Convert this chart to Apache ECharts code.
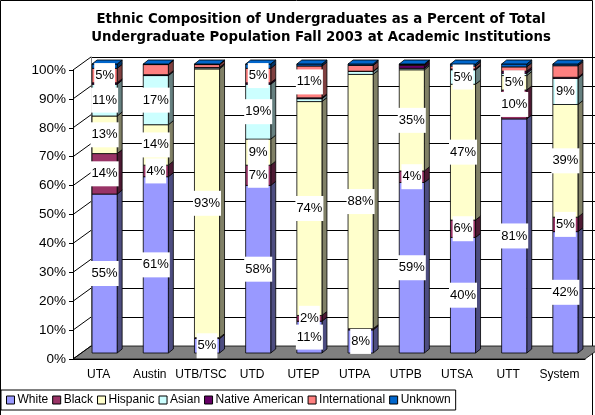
<!DOCTYPE html>
<html>
<head>
<meta charset="utf-8">
<script src="https://cdn.jsdelivr.net/npm/echarts@6/dist/echarts.min.js"></script>
<style>
  html, body { margin: 0; padding: 0; background: #fff; }
  #main { width: 595px; height: 415px; }
</style>
</head>
<body>
<div id="main"></div>
<script>
// institutions on x axis
const categories = ['UTA', 'Austin', 'UTB/TSC', 'UTD', 'UTEP', 'UTPA', 'UTPB', 'UTSA', 'UTT', 'System'];

// percent of undergraduates (small slivers estimated)
const white =         [55, 61, 5,   58,  11,  8,   59,  40,  81,  42];
const black =         [14, 4,  0.3, 7,   2,   0.4, 4,   6,   10,  5];
const hispanic =      [13, 14, 93,  9,   74,  88,  35,  47,  5,   39];
const asian =         [11, 17, 0.4, 19,  1,   1,   0.5, 5,   0.8, 9];
const nativeAm =      [0.5, 0.3, 0.1, 0.5, 0.3, 0.1, 1, 0.3, 0.7, 0.4];
const international = [5,  3.5, 1.0, 5,  11,  2,   0.3, 1,   1.5, 4];
const unknown =       [1.5, 0.2, 0.2, 1.5, 0.7, 0.5, 0.2, 0.7, 1, 0.6];

const yTicks = [0, 10, 20, 30, 40, 50, 60, 70, 80, 90, 100];

// labelMin: smallest value that gets a data label in that series
const groups = [
  { name: 'White', data: white, color: '#9999FF', side: '#4D4D80', labelMin: 2 },
  { name: 'Black', data: black, color: '#993366', side: '#4D1A33', labelMin: 2 },
  { name: 'Hispanic', data: hispanic, color: '#FFFFCC', side: '#808066', labelMin: 2 },
  { name: 'Asian', data: asian, color: '#CCFFFF', side: '#668080', labelMin: 4 },
  { name: 'Native American', data: nativeAm, color: '#660066', side: '#330033', labelMin: 100 },
  { name: 'International', data: international, color: '#FF8080', side: '#804040', labelMin: 4.5 },
  { name: 'Unknown', data: unknown, color: '#0066CC', side: '#003366', labelMin: 100 }
];

const FONT = '"Liberation Sans", Arial, sans-serif';
// 3d offsets (wall depth, bar position in depth, bar thickness)
const WALL_DX = 18, WALL_DY = -13;
const BAR_OX = 6, BAR_OY = -6;
const BAR_DX = 5, BAR_DY = -4;

const myChart = echarts.init(document.getElementById('main'), null, { renderer: 'canvas' });

function barRenderer(g, isTop) {
  return function (params, api) {
    const cat = api.value(0);
    const lo = api.value(1);
    const hi = api.value(2);
    const v = api.value(3);
    const p0 = api.coord([cat, lo]);
    const p1 = api.coord([cat, hi]);
    const bw = api.size([1, 0])[0] * 0.49;
    const x = p0[0] - bw / 2 + BAR_OX;
    const yb = p0[1] + BAR_OY;
    const yt = p1[1] + BAR_OY;
    const children = [
      {
        type: 'polygon',
        shape: { points: [[x + bw, yb], [x + bw + BAR_DX, yb + BAR_DY], [x + bw + BAR_DX, yt + BAR_DY], [x + bw, yt]] },
        style: { fill: g.side, stroke: '#000', lineWidth: 0.8 }
      },
      {
        type: 'rect',
        shape: { x: x, y: yt, width: bw, height: yb - yt },
        style: { fill: g.color, stroke: '#000', lineWidth: 0.8 }
      }
    ];
    if (isTop) {
      children.push({
        type: 'polygon',
        shape: { points: [[x, yt], [x + BAR_DX, yt + BAR_DY], [x + bw + BAR_DX, yt + BAR_DY], [x + bw, yt]] },
        style: { fill: g.color, stroke: '#000', lineWidth: 0.8 }
      });
    }
    if (v >= g.labelMin) {
      children.push({
        type: 'text',
        z2: 100,
        style: {
          text: Math.round(v) + '%',
          x: x + bw / 2,
          y: (yb + yt) / 2,
          align: 'center',
          verticalAlign: 'middle',
          fontSize: 13,
          fontFamily: FONT,
          fill: '#000',
          backgroundColor: '#fff',
          padding: [6, 1]
        }
      });
    }
    return { type: 'group', children: children };
  };
}

// stacked start/end for each segment
const running = categories.map(() => 0);
const barSeries = groups.map((g, gi) => {
  const items = g.data.map((v, i) => {
    const lo = running[i];
    running[i] += v;
    return [i, lo, running[i], v];
  });
  return {
    name: g.name,
    type: 'custom',
    xAxisIndex: 0,
    yAxisIndex: 0,
    z: 5,
    itemStyle: { color: g.color },
    renderItem: barRenderer(g, gi === groups.length - 1),
    data: items
  };
});

const option = {
  animation: false,
  backgroundColor: '#fff',
  title: {
    text: 'Ethnic Composition of Undergraduates as a Percent of Total\nUndergraduate Population Fall 2003 at Academic Institutions',
    left: 316,
    top: 6,
    textAlign: 'center',
    textStyle: { fontSize: 13.3, fontWeight: 'bold', fontFamily: 'DejaVu Sans', color: '#000', lineHeight: 18 }
  },
  legend: {
    left: 1,
    top: 390,
    padding: [4, 5],
    borderColor: '#000',
    borderWidth: 1,
    itemWidth: 8,
    itemHeight: 8,
    itemGap: 4,
    icon: 'rect',
    itemStyle: { borderColor: '#000', borderWidth: 1 },
    textStyle: { fontSize: 12, fontFamily: FONT, color: '#000', padding: [0, 0, 0, -2] },
    data: groups.map(g => g.name)
  },
  grid: [
    { left: 73, top: 70, width: 512, height: 289, containLabel: false },
    { left: 73 + WALL_DX, top: 70 + WALL_DY, width: 512, height: 289, containLabel: false }
  ],
  xAxis: [
    {
      type: 'category',
      gridIndex: 0,
      data: categories,
      axisLine: { lineStyle: { color: '#000' } },
      axisTick: { length: 5, lineStyle: { color: '#000' } },
      axisLabel: { interval: 0, color: '#000', fontSize: 12, fontFamily: FONT, margin: 10 }
    },
    {
      type: 'category',
      gridIndex: 1,
      data: categories,
      show: false
    }
  ],
  yAxis: [
    {
      type: 'value',
      gridIndex: 0,
      min: 0,
      max: 100,
      interval: 10,
      axisLine: { show: true, lineStyle: { color: '#000' } },
      axisTick: { show: true, length: 4, lineStyle: { color: '#000' } },
      splitLine: { show: false },
      axisLabel: { formatter: '{value}%', color: '#000', fontSize: 13.5, fontFamily: FONT, margin: 7 }
    },
    {
      type: 'value',
      gridIndex: 1,
      min: 0,
      max: 100,
      interval: 10,
      axisLine: { show: true, lineStyle: { color: '#808080' } },
      axisTick: { show: false },
      axisLabel: { show: false },
      splitLine: { lineStyle: { color: '#000', width: 1 } }
    }
  ],
  graphic: [
    {
      type: 'rect',
      silent: true,
      z: -1,
      shape: { x: 0.5, y: 0.5, width: 592, height: 440 },
      style: { fill: null, stroke: '#000', lineWidth: 1 }
    }
  ],
  series: [
    {
      // floor of the 3d plot
      type: 'custom',
      xAxisIndex: 0,
      yAxisIndex: 0,
      z: 3,
      silent: true,
      renderItem: function (params, api) {
        const cs = params.coordSys;
        const x0 = cs.x, y0 = cs.y + cs.height, x1 = cs.x + cs.width;
        return {
          type: 'polygon',
          shape: { points: [[x0, y0], [x0 + WALL_DX, y0 + WALL_DY], [x1 + WALL_DX, y0 + WALL_DY], [x1, y0]] },
          style: { fill: '#808080', stroke: '#000', lineWidth: 0.8 }
        };
      },
      data: [[0, 0]]
    },
    {
      // slanted tick lines from the axis back to the wall
      type: 'custom',
      xAxisIndex: 0,
      yAxisIndex: 0,
      z: 3,
      silent: true,
      renderItem: function (params, api) {
        const p = api.coord([0, api.value(1)]);
        const x0 = params.coordSys.x;
        return {
          type: 'line',
          shape: { x1: x0, y1: p[1], x2: x0 + WALL_DX, y2: p[1] + WALL_DY },
          style: { stroke: '#000', lineWidth: 1 }
        };
      },
      data: yTicks.map(t => [0, t])
    }
  ].concat(barSeries)
};

myChart.setOption(option);
</script>
</body>
</html>
